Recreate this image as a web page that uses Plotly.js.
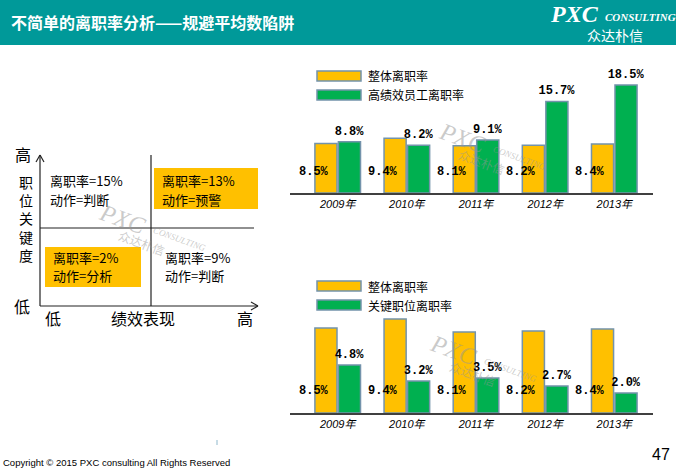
<!DOCTYPE html>
<html>
<head>
<meta charset="utf-8">
<script src="https://cdn.plot.ly/plotly-3.0.1.min.js"></script>
<style>
  html, body { margin: 0; padding: 0; background: #ffffff; }
  #chart { width: 676px; height: 468px; }
</style>
</head>
<body>
<div id="chart"></div>
<script>
// ---------------- data ----------------
const years = ['2009年', '2010年', '2011年', '2012年', '2013年'];
const overallRate = [8.5, 9.4, 8.1, 8.2, 8.4];
const highPerfRate = [8.8, 8.2, 9.1, 15.7, 18.5];
const keyPosRate = [4.8, 3.2, 3.5, 2.7, 2.0];
const topSeriesNames = ['整体离职率', '高绩效员工离职率'];
const bottomSeriesNames = ['整体离职率', '关键职位离职率'];
const pageTitle = '不简单的离职率分析——规避平均数陷阱';
const quadrantLines = [
  ['离职率=15%', '动作=判断'],
  ['离职率=13%', '动作=预警'],
  ['离职率=2%', '动作=分析'],
  ['离职率=9%', '动作=判断']
];
const yAxisChars = ['职', '位', '关', '键', '度'];
const xAxisWords = ['低', '绩效表现', '高'];
const yEndWords = ['高', '低'];
const copyrightText = 'Copyright © 2015 PXC consulting All Rights Reserved';
const pageNumber = '47';

// ---------------- style ----------------
const W = 676, H = 468;
const YELLOW = '#FFC000', GREEN = '#00B050', OUTLINE = '#7393AB', TEAL = '#009999';
const CJK = '"Noto Sans CJK SC", "Noto Sans", sans-serif';
const MONO = '"Liberation Mono", "DejaVu Sans Mono", monospace';
const X = px => px / W;
const Y = py => 1 - py / H;

const shapes = [];
const annotations = [];

function rect(x0, y0, x1, y1, fill, line) {
  shapes.push({type: 'rect', xref: 'paper', yref: 'paper', x0: X(x0), x1: X(x1), y0: Y(y1), y1: Y(y0),
    fillcolor: fill, line: line ? {color: line, width: 1.5} : {width: 0}, layer: 'below'});
}
function line(x0, y0, x1, y1, color, width) {
  shapes.push({type: 'line', xref: 'paper', yref: 'paper', x0: X(x0), x1: X(x1), y0: Y(y0), y1: Y(y1),
    line: {color: color || '#222', width: width || 1.2}});
}
function text(px, py, t, font, xanchor, extra) {
  annotations.push(Object.assign({xref: 'paper', yref: 'paper', x: X(px), y: Y(py), text: t,
    showarrow: false, xanchor: xanchor || 'center', yanchor: 'middle', font: font}, extra || {}));
}

// header
rect(0, 0, W, 45, TEAL);
text(9, 22, '<b>' + pageTitle + '</b>', {family: CJK, size: 16, color: '#ffffff'}, 'left');
text(574, 14, '<b><i>PXC</i></b>', {family: '"Liberation Serif", serif', size: 24, color: '#ffffff'});
text(603, 17, '<b><i>CONSULTING</i></b>', {family: '"Liberation Serif", serif', size: 11, color: '#ffffff'}, 'left');
text(615, 35, '众达朴信', {family: CJK, size: 14, color: '#ffffff'});

// footer
text(1, 462, copyrightText, {family: '"Liberation Sans Narrow", "Liberation Sans", sans-serif', size: 9.5, color: '#000'}, 'left');
text(661, 454, pageNumber, {family: '"Liberation Sans", sans-serif', size: 16, color: '#000'});
line(217, 440, 217, 445, '#8fb8cc', 1);

// quadrant diagram
rect(154, 168, 258, 209, YELLOW);
rect(45, 247, 141, 287, YELLOW);
line(40, 306, 40, 155);           // y axis
line(36, 162, 40, 155); line(40, 155, 44, 162);
line(40, 306, 258, 306);          // x axis
line(251, 302, 258, 306); line(258, 306, 251, 310);
line(151, 155, 151, 306);         // vertical divider
line(40, 228, 254, 228);          // horizontal divider
const qPos = [[48, 181], [160, 181], [51, 257], [163, 257]];
quadrantLines.forEach((lines, i) => {
  lines.forEach((t, j) => text(qPos[i][0], qPos[i][1] + j * 18, t, {family: CJK, size: 13, color: '#000'}, 'left'));
});
text(26, 218, yAxisChars.join('<br>'), {family: CJK, size: 14, color: '#000'});
text(23, 154, yEndWords[0], {family: CJK, size: 16, color: '#000'});
text(22, 306, yEndWords[1], {family: CJK, size: 16, color: '#000'});
[[53, 318], [143, 318], [245, 318]].forEach((p, i) => text(p[0], p[1], xAxisWords[i], {family: CJK, size: 16, color: '#000'}));

// watermarks
function watermark(cx, cy) {
  const c = 'rgba(150,150,150,0.5)';
  text(cx, cy, '<i>PXC</i>', {family: '"Liberation Serif", serif', size: 24, color: c}, 'center', {textangle: 20});
  text(cx + 57, cy + 20, '<i>CONSULTING</i>', {family: '"Liberation Serif", serif', size: 9, color: c}, 'center', {textangle: 20});
  text(cx + 20, cy + 23, '众达朴信', {family: CJK, size: 12, color: c}, 'center', {textangle: 20});
}
watermark(122, 219);
watermark(462, 138);
watermark(453, 350);

// custom legends
function legend(names, yTop) {
  rect(317, yTop, 361, yTop + 10, YELLOW, OUTLINE);
  rect(317, yTop + 19, 361, yTop + 29, GREEN, OUTLINE);
  text(366, yTop + 5, names[0], {family: CJK, size: 12, color: '#000'}, 'left');
  text(366, yTop + 24, names[1], {family: CJK, size: 12, color: '#000'}, 'left');
}
legend(topSeriesNames, 71);
legend(bottomSeriesNames, 281);

// yellow value labels (placed near base of the yellow bars)
const labelFont = {family: MONO, size: 12, color: '#000', weight: 'bold'};
years.forEach((yr, i) => {
  annotations.push({xref: 'x', yref: 'y', x: yr, y: 0, yshift: 21, xshift: -24,
    text: '<b>' + overallRate[i].toFixed(1) + '%</b>', showarrow: false, font: labelFont});
  annotations.push({xref: 'x2', yref: 'y2', x: yr, y: 0, yshift: 22, xshift: -24,
    text: '<b>' + overallRate[i].toFixed(1) + '%</b>', showarrow: false, font: labelFont});
});

// ---------------- traces ----------------
const barLine = {color: OUTLINE, width: 1.5};
const greenText = {family: MONO, size: 12, color: '#000', weight: 'bold'};
const traces = [
  {type: 'bar', x: years, y: overallRate, name: topSeriesNames[0], xaxis: 'x', yaxis: 'y',
   marker: {color: YELLOW, line: barLine}, hoverinfo: 'skip'},
  {type: 'bar', x: years, y: highPerfRate, name: topSeriesNames[1], xaxis: 'x', yaxis: 'y',
   marker: {color: GREEN, line: barLine}, text: highPerfRate.map(v => '<b>' + v.toFixed(1) + '%</b>'),
   textposition: 'outside', constraintext: 'none', textfont: greenText, cliponaxis: false, hoverinfo: 'skip'},
  {type: 'bar', x: years, y: overallRate, name: bottomSeriesNames[0], xaxis: 'x2', yaxis: 'y2',
   marker: {color: YELLOW, line: barLine}, hoverinfo: 'skip'},
  {type: 'bar', x: years, y: keyPosRate, name: bottomSeriesNames[1], xaxis: 'x2', yaxis: 'y2',
   marker: {color: GREEN, line: barLine}, text: keyPosRate.map(v => '<b>' + v.toFixed(1) + '%</b>'),
   textposition: 'outside', constraintext: 'none', textfont: greenText, cliponaxis: false, hoverinfo: 'skip'}
];

const xCommon = {
  type: 'category', domain: [X(290), X(653)], range: [-0.69, 4.56],
  showline: true, linecolor: '#404040', linewidth: 1.5, ticks: '', showgrid: false, zeroline: false,
  tickfont: {family: '"Liberation Sans", ' + CJK, size: 11, color: '#000', style: 'italic'},
  fixedrange: true
};
const yCommon = {showgrid: false, zeroline: false, showticklabels: false, showline: false, ticks: '', fixedrange: true};

const layout = {
  width: W, height: H,
  margin: {l: 0, r: 0, t: 0, b: 0},
  paper_bgcolor: '#ffffff', plot_bgcolor: 'rgba(0,0,0,0)',
  showlegend: false,
  barmode: 'group', bargap: 0.32, bargroupgap: 0.06,
  xaxis: Object.assign({}, xCommon, {anchor: 'y'}),
  yaxis: Object.assign({}, yCommon, {domain: [Y(193), Y(60)], range: [0, 22.8], anchor: 'x'}),
  xaxis2: Object.assign({}, xCommon, {anchor: 'y2'}),
  yaxis2: Object.assign({}, yCommon, {domain: [Y(413), Y(300)], range: [0, 11.3], anchor: 'x2'}),
  shapes: shapes,
  annotations: annotations
};

Plotly.newPlot('chart', traces, layout, {displayModeBar: false, staticPlot: true});
</script>
</body>
</html>
